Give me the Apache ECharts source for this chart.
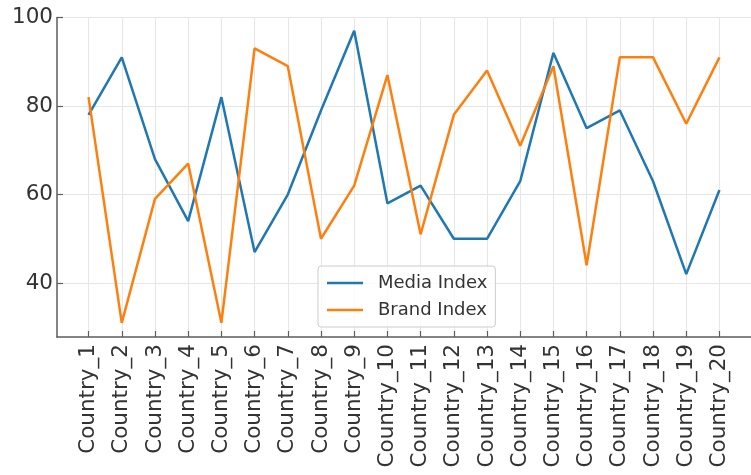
<!DOCTYPE html>
<html>
<head>
<meta charset="utf-8">
<script src="https://cdn.jsdelivr.net/npm/echarts@6/dist/echarts.min.js"></script>
<style>
  html, body { margin: 0; padding: 0; background: #fff; }
  #chart { width: 751px; height: 475px; }
</style>
</head>
<body>
<div id="chart"></div>
<script>
  const countries = ['Country_1', 'Country_2', 'Country_3', 'Country_4', 'Country_5', 'Country_6', 'Country_7',
    'Country_8', 'Country_9', 'Country_10', 'Country_11', 'Country_12', 'Country_13', 'Country_14',
    'Country_15', 'Country_16', 'Country_17', 'Country_18', 'Country_19', 'Country_20'];
  const mediaIndex = [78, 91, 68, 54, 82, 47, 60, 79, 97, 58, 62, 50, 50, 63, 92, 75, 79, 63, 42, 61];
  const brandIndex = [82, 31, 59, 67, 31, 93, 89, 50, 62, 87, 51, 78, 88, 71, 89, 44, 91, 91, 76, 91];
  const yTicks = [40, 60, 80, 100];

  const xTicks = countries.map((c, i) => i);
  const font = 'DejaVu Sans';
  const axisColor = '#5c5c5c';
  const gridColor = '#e6e6e6';

  const chart = echarts.init(document.getElementById('chart'));
  chart.setOption({
    animation: false,
    grid: { left: 57, right: -8, top: 17.5, bottom: 138 },
    legend: {
      orient: 'vertical',
      left: 318,
      top: 266,
      icon: 'rect',
      itemWidth: 36,
      itemHeight: 2.5,
      itemGap: 7,
      padding: [7, 8, 7, 9],
      borderColor: '#cccccc',
      borderWidth: 1,
      borderRadius: 3,
      backgroundColor: 'rgba(255,255,255,0.8)',
      textStyle: { fontFamily: font, fontSize: 18, color: '#333', lineHeight: 20, padding: [0, 0, 0, 10] },
      data: ['Media Index', 'Brand Index']
    },
    xAxis: {
      type: 'value',
      min: -0.95,
      max: 19.95,
      axisLine: { show: true, onZero: false, lineStyle: { color: axisColor, width: 1.5 } },
      axisTick: { show: true, inside: true, length: 6, customValues: xTicks, lineStyle: { color: axisColor, width: 1.2 } },
      axisLabel: {
        customValues: xTicks,
        rotate: 90,
        margin: 7,
        fontFamily: font,
        fontSize: 21.5,
        color: '#333',
        formatter: v => countries[Math.round(v)]
      },
      splitLine: { show: true, customValues: xTicks, lineStyle: { color: gridColor, width: 1 } }
    },
    yAxis: {
      type: 'value',
      min: 27.8,
      max: 100,
      axisLine: { show: true, onZero: false, lineStyle: { color: axisColor, width: 1.5 } },
      axisTick: { show: true, inside: true, length: 6, customValues: yTicks, lineStyle: { color: axisColor, width: 1.2 } },
      axisLabel: { customValues: yTicks, margin: 4, fontFamily: font, fontSize: 21.5, color: '#333' },
      splitLine: { show: true, customValues: yTicks, lineStyle: { color: gridColor, width: 1 } }
    },
    series: [
      {
        name: 'Media Index',
        type: 'line',
        symbol: 'none',
        lineStyle: { color: '#1f77b4', width: 2.5 },
        itemStyle: { color: '#1f77b4' },
        data: mediaIndex.map((v, i) => [i, v])
      },
      {
        name: 'Brand Index',
        type: 'line',
        symbol: 'none',
        lineStyle: { color: '#ff7f0e', width: 2.5 },
        itemStyle: { color: '#ff7f0e' },
        data: brandIndex.map((v, i) => [i, v])
      }
    ]
  });
</script>
</body>
</html>
